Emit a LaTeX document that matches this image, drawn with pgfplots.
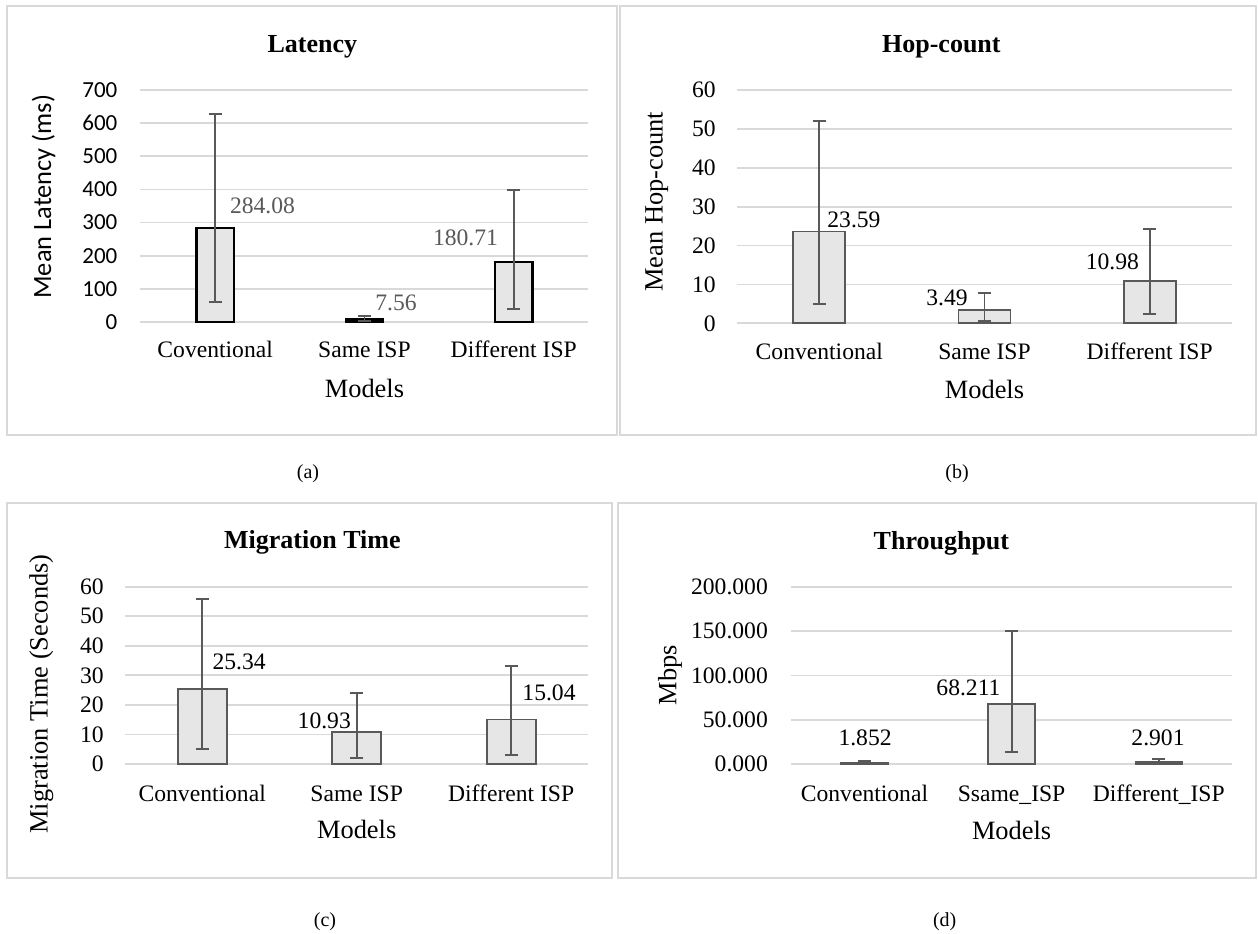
\documentclass[border=0pt]{standalone}
\usepackage{pgfplots}
\pgfplotsset{compat=1.18}
\usepackage{pgfplotstable}
\usepackage{fontspec}
\setmainfont{Liberation Serif}
\newfontfamily\calib{Carlito}

\definecolor{gridc}{HTML}{D9D9D9}
\definecolor{barfill}{HTML}{E6E6E6}
\definecolor{errc}{HTML}{595959}
\definecolor{edgec}{HTML}{595959}
\definecolor{valc}{HTML}{595959}

\newcommand{\fs}[1]{\fontsize{#1}{#1}\selectfont}

% x  y  plus  minus
\pgfplotstableread{
x y ep em
0 284.08 343.5 224.7
1 7.56 9.5 5.5
2 180.71 217.6 142.5
}\latency
\pgfplotstableread{
x y ep em
0 23.59 28.41 18.69
1 3.49 4.21 2.82
2 10.98 13.22 8.68
}\hops
\pgfplotstableread{
x y ep em
0 25.34 30.46 20.14
1 10.93 12.97 8.83
2 15.04 18.16 12.04
}\migration
\pgfplotstableread{
x y ep em
0 1.852 2.15 1.35
1 68.211 81.89 54.71
2 2.901 3.10 2.40
}\throughput

\pgfplotsset{
  every axis title shift=0pt,
  panel/.style={
    scale only axis, anchor=south west,
    xmin=-0.5, xmax=2.5, ymin=0, enlargelimits=false,
    xtick={0,1,2}, axis line style={draw=none}, major tick length=0pt,
    ymajorgrids, grid style={gridc, line width=0.9pt},
    tick label style={font=\fs{11.8}, text=black},
    xticklabel style={anchor=base, inner sep=0pt},
    yticklabel style={anchor=east, inner sep=0pt},
    label style={font=\fs{13.2}},
    title style={font=\bfseries\fs{13}, anchor=base, inner sep=0pt},
    xlabel style={at={(axis description cs:0.5,0)}, anchor=base, inner sep=0pt},
    ylabel style={anchor=center, inner sep=0pt},
    clip=false,
    error bars/error bar style={color=errc, line width=0.9pt},
    error bars/error mark options={rotate=90, mark size=3.3pt, line width=0.9pt, color=errc},
  },
}
\tikzset{vlab/.style={font=\fs{11.8}, inner sep=0pt, anchor=center}}

\begin{document}
\begin{tikzpicture}
\useasboundingbox[fill=white] (0pt,0pt) rectangle (629pt,-466.5pt);
% panel borders
\draw[gridc, line width=1pt] (3.5pt,-3pt) rectangle (308.5pt,-217.5pt);
\draw[gridc, line width=1pt] (310pt,-3pt) rectangle (628pt,-217.5pt);
\draw[gridc, line width=1pt] (3.5pt,-251.5pt) rectangle (306pt,-438.85pt);
\draw[gridc, line width=1pt] (309pt,-251.5pt) rectangle (628pt,-438.85pt);

% (a) Latency
\begin{axis}[panel, at={(70.25pt,-161pt)}, width=223.95pt, height=116pt,
  ymax=700, ytick={0,100,...,700},
  yticklabels={0,100,200,300,400,500,600,700},
  yticklabel style={font=\calib\fs{11.5}, xshift=-11.35pt},
  xticklabels={Coventional, Same ISP, Different ISP},
  xticklabel style={yshift=-17.9pt},
  xlabel={Models}, xlabel style={yshift=-37.5pt},
  ylabel={\calib Mean Latency (ms)},
  ylabel style={at={(axis description cs:-0.2166,0.540)}},
  title={Latency}, title style={at={(axis description cs:0.3838,1.1634)}},
]
\addplot[ybar, bar width=0.251, fill=barfill, draw=black, line width=1.15pt,
  error bars/.cd, y dir=both, y explicit]
  table[x=x, y=y, y error plus=ep, y error minus=em] {\latency};
\node[vlab, text=valc] at (axis cs:0.317,350) {284.08};
\node[vlab, text=valc] at (axis cs:1.211,57.3) {7.56};
\node[vlab, text=valc] at (axis cs:1.677,253.4) {180.71};
\end{axis}

% (b) Hop-count
\begin{axis}[panel, at={(368.35pt,-161.65pt)}, width=247.8pt, height=116.65pt,
  ymax=60, ytick={0,10,...,60},
  yticklabels={0,10,20,30,40,50,60},
  yticklabel style={xshift=-10.35pt},
  xticklabels={Conventional, Same ISP, Different ISP},
  xticklabel style={yshift=-18.1pt},
  xlabel={Models}, xlabel style={yshift=-37.7pt},
  ylabel={Mean Hop-count},
  ylabel style={at={(axis description cs:-0.1614,0.521)}},
  title={Hop-count}, title style={at={(axis description cs:0.4130,1.1624)}},
]
\addplot[ybar, bar width=0.315, fill=barfill, draw=edgec, line width=0.9pt,
  error bars/.cd, y dir=both, y explicit]
  table[x=x, y=y, y error plus=ep, y error minus=em] {\hops};
\node[vlab] at (axis cs:0.210,26.6) {23.59};
\node[vlab] at (axis cs:0.773,6.43) {3.49};
\node[vlab] at (axis cs:1.774,15.84) {10.98};
\end{axis}

% (c) Migration Time
\begin{axis}[panel, at={(62.5pt,-382pt)}, width=231.7pt, height=88.65pt,
  ymax=60, ytick={0,10,...,60},
  yticklabels={0,10,20,30,40,50,60},
  yticklabel style={xshift=-10.5pt},
  xticklabels={Conventional, Same ISP, Different ISP},
  xticklabel style={yshift=-18.5pt},
  xlabel={Models}, xlabel style={yshift=-37.35pt},
  ylabel={Migration Time (Seconds)},
  ylabel style={at={(axis description cs:-0.1808,0.395)}},
  title={Migration Time}, title style={at={(axis description cs:0.4044,1.2127)}},
]
\addplot[ybar, bar width=0.317, fill=barfill, draw=edgec, line width=0.9pt,
  error bars/.cd, y dir=both, y explicit]
  table[x=x, y=y, y error plus=ep, y error minus=em] {\migration};
\node[vlab] at (axis cs:0.239,34.6) {25.34};
\node[vlab] at (axis cs:0.790,14.65) {10.93};
\node[vlab] at (axis cs:2.245,24.26) {15.04};
\end{axis}

% (d) Throughput
\begin{axis}[panel, at={(395.45pt,-382.15pt)}, width=220.7pt, height=88.8pt,
  ymax=200, ytick={0,50,...,200},
  yticklabels={0.000,50.000,100.000,150.000,200.000},
  yticklabel style={xshift=-11.35pt},
  xticklabels={Conventional, Ssame\_ISP, Different\_ISP},
  xticklabel style={yshift=-18.4pt},
  xlabel={Models}, xlabel style={yshift=-37.35pt},
  ylabel={Mbps},
  ylabel style={at={(axis description cs:-0.2739,0.503)}},
  title={Throughput}, title style={at={(axis description cs:0.3410,1.2123)}},
]
\addplot[ybar, bar width=0.316, fill=barfill, draw=edgec, line width=0.9pt,
  error bars/.cd, y dir=both, y explicit]
  table[x=x, y=y, y error plus=ep, y error minus=em] {\throughput};
\node[vlab] at (axis cs:0.004,29.3) {1.852};
\node[vlab] at (axis cs:0.707,85.6) {68.211};
\node[vlab] at (axis cs:1.995,29.3) {2.901};
\end{axis}

% captions
\node[font=\fs{10}, inner sep=0pt] at (154pt,-236.65pt) {(a)};
\node[font=\fs{10}, inner sep=0pt] at (478.5pt,-236.65pt) {(b)};
\node[font=\fs{10}, inner sep=0pt] at (162.5pt,-460.85pt) {(c)};
\node[font=\fs{10}, inner sep=0pt] at (472.35pt,-460.85pt) {(d)};
\end{tikzpicture}
\end{document}
